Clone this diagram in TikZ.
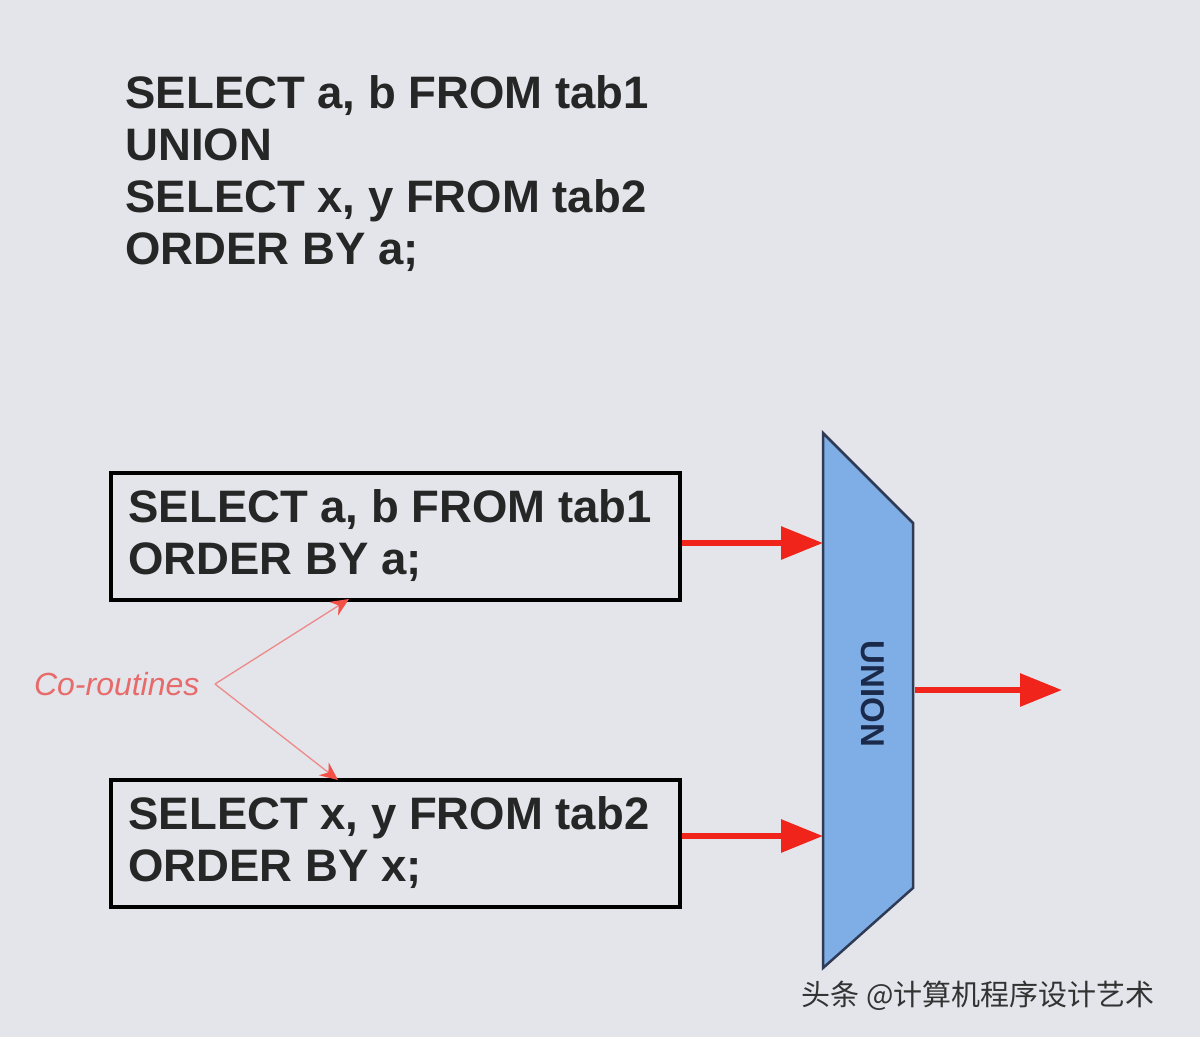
\documentclass[tikz,border=0pt]{standalone}
\usepackage{fontspec}
\setmainfont{Liberation Sans}
\newfontfamily\cjk{Noto Sans CJK SC}
\usetikzlibrary{arrows.meta}
\definecolor{bg}{HTML}{E3E5EA}
\definecolor{redarr}{HTML}{F0241A}
\definecolor{coral}{HTML}{E86B6B}
\definecolor{blu}{HTML}{7FAEE6}
\definecolor{navy}{HTML}{1B2A4A}
\tikzset{
  sqlbox/.style={draw=black,line width=4pt,minimum width=569pt,minimum height=127pt,inner sep=0pt},
  sqltext/.style={font=\bfseries\fontsize{45.5}{52}\selectfont,text=black!85,align=left},
  flow/.style={redarr,line width=6pt,-{Triangle[length=42pt,width=32pt]}},
  corou/.style={coral!80,line width=1.3pt,-{Stealth[length=18pt,width=16pt,fill=redarr!80,color=redarr!80]}}
}
\begin{document}
\begin{tikzpicture}[x=1pt,y=-1pt]
\fill[bg] (0,0) rectangle (1200,1037);
\useasboundingbox (0,0) rectangle (1200,1037);
\node[sqltext,anchor=north west] (top) at (122,72) {SELECT a, b FROM tab1\\UNION\\SELECT x, y FROM tab2\\ORDER BY a;};
\node[sqlbox] (b1) at (395.5,536.5) {};
\node[sqltext,anchor=west] at (125,536) {SELECT a, b FROM tab1\\ORDER BY a;};
\node[sqlbox] (b2) at (395.5,843.5) {};
\node[sqltext,anchor=west] at (125,843) {SELECT x, y FROM tab2\\ORDER BY x;};
\draw[navy!80!gray,line width=2.5pt,fill=blu] (823,433) -- (913,523) -- (913,888) -- (823,968) -- cycle;
\coordinate (u1) at (823,543);
\coordinate (u2) at (823,836);
\coordinate (uo) at (915,690);
\coordinate (out) at (1062,690);
\node[rotate=-90,text=navy,font=\bfseries\fontsize{33}{33}\selectfont] (un) at (873,694) {UNION};
\draw[flow] (b1.east |- u1) -- (u1);
\draw[flow] (b2.east |- u2) -- (u2);
\draw[flow] (uo) -- (out);
\node[text=coral,font=\itshape\fontsize{32}{32}\selectfont,anchor=east] (co) at (203,684) {Co-routines};
\coordinate (v) at (215,684);
\draw[corou] (v) -- (349,599);
\draw[corou] (v) -- (338,780);
\node[font=\cjk\fontsize{29}{29}\selectfont,text=black!80,anchor=west] (wm) at (798,996) {头条 @计算机程序设计艺术};
\end{tikzpicture}
\end{document}
